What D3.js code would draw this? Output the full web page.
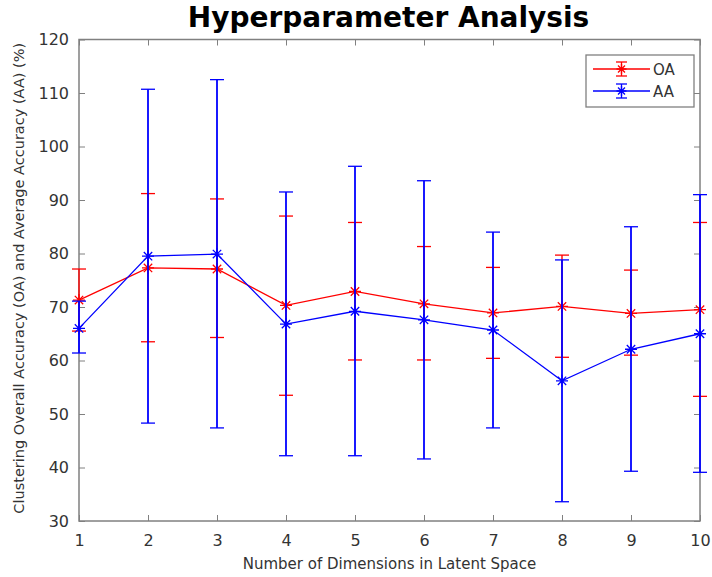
<!DOCTYPE html>
<html lang="en">

<head>
  <meta charset="UTF-8">
  <title>Hyperparameter Analysis</title>
  <script src="https://d3js.org/d3.v7.min.js"></script>
  <style>
    html,
    body {
      padding: 0;
      margin: 0;
      background: #fff;
    }

    text {
      font-family: "DejaVu Sans", sans-serif;
      fill: #333;
    }
  </style>
</head>

<body>
  <script>
    const width = 712;
    const height = 577;

    // data
    const dims = [1, 2, 3, 4, 5, 6, 7, 8, 9, 10];
    const oaMean = [71.3, 77.3, 77.1, 70.3, 72.9, 70.6, 68.9, 70.1, 68.8, 69.5];
    const oaUpper = [77.1, 91.2, 90.2, 87.0, 85.8, 81.3, 77.4, 79.7, 76.9, 85.8];
    const oaLower = [65.5, 63.5, 64.3, 53.5, 60.1, 60.1, 60.4, 60.6, 61.0, 53.3];
    const aaMean = [66.0, 79.5, 79.9, 66.8, 69.2, 67.6, 65.7, 56.2, 62.1, 65.0];
    const aaUpper = [71.1, 110.7, 112.5, 91.5, 96.3, 93.6, 84.0, 78.8, 85.0, 91.0];
    const aaLower = [61.4, 48.3, 47.4, 42.2, 42.2, 41.6, 47.4, 33.6, 39.3, 39.1];
    const yTicks = [30, 40, 50, 60, 70, 80, 90, 100, 110, 120];

    const series = [
      { name: 'OA', color: '#ff0000', mean: oaMean, upper: oaUpper, lower: oaLower },
      { name: 'AA', color: '#0000ff', mean: aaMean, upper: aaUpper, lower: aaLower },
    ];

    const margin = { top: 39.5, right: 12, bottom: 56, left: 79 };
    const innerW = width - margin.left - margin.right;
    const innerH = height - margin.top - margin.bottom;

    const x = d3.scaleLinear().domain([1, 10]).range([0, innerW]);
    const y = d3.scaleLinear().domain([30, 120]).range([innerH, 0]);

    const svg = d3.select('body').append('svg')
      .attr('width', width)
      .attr('height', height);

    const g = svg.append('g')
      .attr('transform', `translate(${margin.left},${margin.top})`);

    // axes, matlab style box with ticks on all sides
    const axisColor = '#808080';
    const tickLen = 6;

    function styleAxis(sel) {
      sel.select('.domain').remove();
      sel.selectAll('.tick line').attr('stroke', axisColor);
      sel.selectAll('.tick text')
        .attr('fill', '#333')
        .style('font-size', '16px');
    }

    g.append('g')
      .attr('transform', `translate(0,${innerH})`)
      .call(d3.axisBottom(x).tickValues(dims).tickFormat(d3.format('d'))
        .tickSizeInner(-tickLen).tickSizeOuter(0).tickPadding(14))
      .call(styleAxis);

    g.append('g')
      .call(d3.axisTop(x).tickValues(dims).tickFormat('')
        .tickSizeInner(-tickLen).tickSizeOuter(0))
      .call(styleAxis);

    g.append('g')
      .call(d3.axisLeft(y).tickValues(yTicks)
        .tickSizeInner(-tickLen).tickSizeOuter(0).tickPadding(10))
      .call(styleAxis);

    g.append('g')
      .attr('transform', `translate(${innerW},0)`)
      .call(d3.axisRight(y).tickValues(yTicks).tickFormat('')
        .tickSizeInner(-tickLen).tickSizeOuter(0))
      .call(styleAxis);

    g.append('rect')
      .attr('width', innerW)
      .attr('height', innerH)
      .attr('fill', 'none')
      .attr('stroke', axisColor)
      .attr('stroke-width', 1.5);

    // asterisk marker
    function star(sel, cx, cy, r, color) {
      const a = r * 0.7;
      const p = `M${cx - r},${cy}L${cx + r},${cy}M${cx},${cy - r}L${cx},${cy + r}` +
        `M${cx - a},${cy - a}L${cx + a},${cy + a}M${cx - a},${cy + a}L${cx + a},${cy - a}`;
      sel.append('path').attr('d', p).attr('stroke', color).attr('stroke-width', 1.3).attr('fill', 'none');
    }

    const line = d3.line()
      .x((d, i) => x(dims[i]))
      .y((d) => y(d));

    // OA drawn first, AA error bars end up on top like in the figure
    series.forEach((s, k) => {
      const sg = g.append('g');
      const cap = 7;
      dims.forEach((d, i) => {
        sg.append('line')
          .attr('x1', x(d)).attr('x2', x(d))
          .attr('y1', y(s.lower[i])).attr('y2', y(s.upper[i]))
          .attr('stroke', s.color).attr('stroke-width', k === 1 ? 1.8 : 1.4);
        [s.lower[i], s.upper[i]].forEach((v) => {
          sg.append('line')
            .attr('x1', x(d) - cap).attr('x2', x(d) + cap)
            .attr('y1', y(v)).attr('y2', y(v))
            .attr('stroke', s.color).attr('stroke-width', 1.3);
        });
      });
      sg.append('path')
        .attr('d', line(s.mean))
        .attr('fill', 'none')
        .attr('stroke', s.color)
        .attr('stroke-width', 1.3);
      dims.forEach((d, i) => star(sg, x(d), y(s.mean[i]), 6, s.color));
    });

    // legend
    const lg = svg.append('g').attr('transform', 'translate(586,55)');
    lg.append('rect')
      .attr('width', 108).attr('height', 52)
      .attr('fill', '#fff')
      .attr('stroke', '#808080').attr('stroke-width', 1.3);
    series.forEach((s, i) => {
      const ly = 14 + i * 22;
      lg.append('line').attr('x1', 7).attr('x2', 64).attr('y1', ly).attr('y2', ly)
        .attr('stroke', s.color).attr('stroke-width', 1.3);
      lg.append('line').attr('x1', 35.5).attr('x2', 35.5).attr('y1', ly - 7).attr('y2', ly + 7)
        .attr('stroke', s.color).attr('stroke-width', 1.3);
      [ly - 7, ly + 7].forEach((v) => {
        lg.append('line').attr('x1', 30).attr('x2', 41).attr('y1', v).attr('y2', v)
          .attr('stroke', s.color).attr('stroke-width', 1.3);
      });
      star(lg, 35.5, ly, 5, s.color);
      lg.append('text').attr('x', 67).attr('y', ly + 5.5)
        .style('font-size', '15px')
        .text(s.name);
    });

    // title and labels
    svg.append('text')
      .attr('x', margin.left + innerW / 2 - 1)
      .attr('y', 27)
      .attr('text-anchor', 'middle')
      .style('font-size', '28px')
      .style('font-weight', 'bold')
      .style('fill', '#000')
      .text('Hyperparameter Analysis');

    svg.append('text')
      .attr('x', margin.left + innerW / 2)
      .attr('y', 569)
      .attr('text-anchor', 'middle')
      .style('font-size', '15px')
      .text('Number of Dimensions in Latent Space');

    svg.append('text')
      .attr('transform', `translate(24,${margin.top + innerH / 2 - 2}) rotate(-90)`)
      .attr('text-anchor', 'middle')
      .style('font-size', '14.5px')
      .text('Clustering Overall Accuracy (OA) and Average Accuracy (AA) (%)');
  </script>
</body>

</html>
